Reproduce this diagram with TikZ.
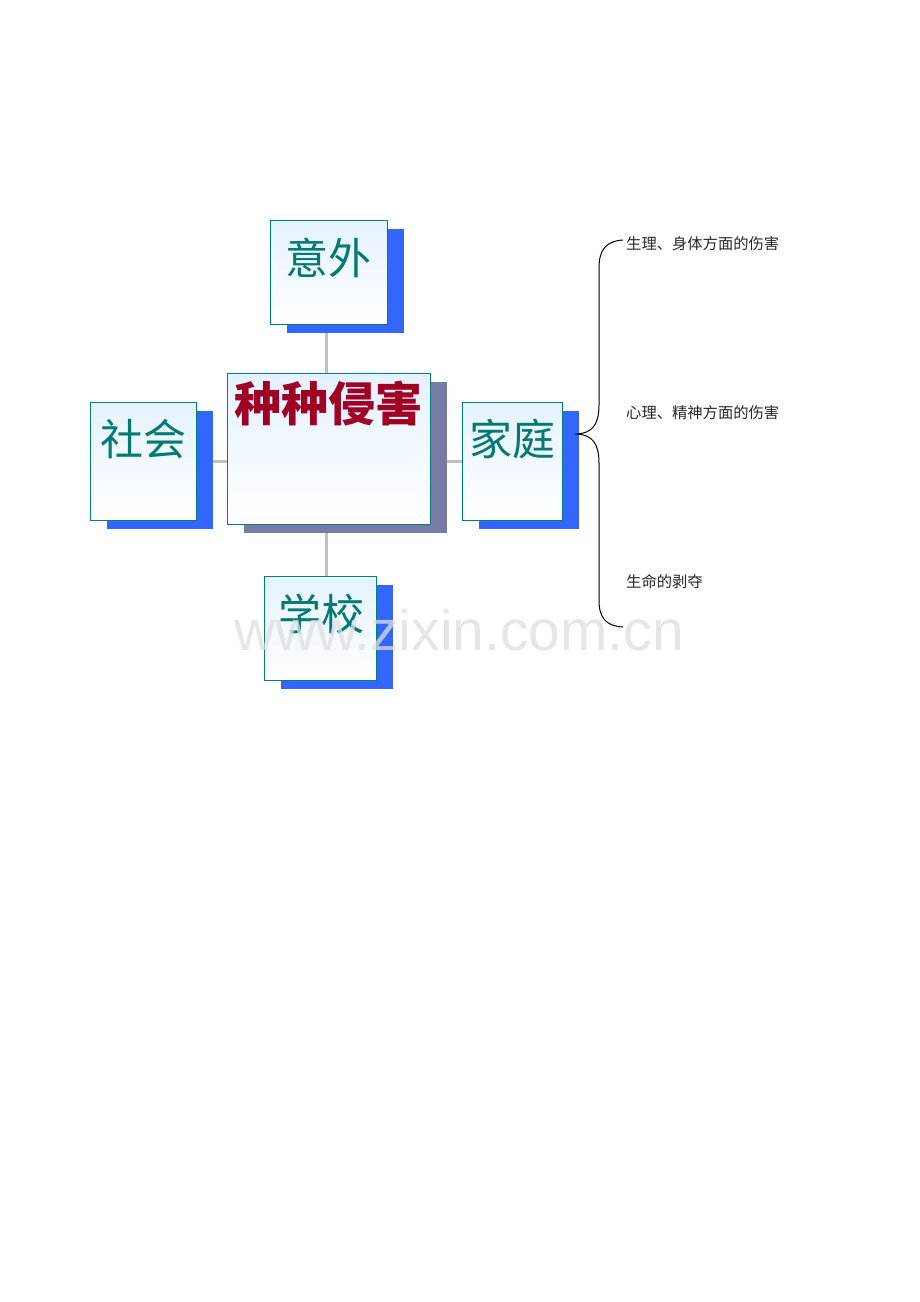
\documentclass[tikz,border=0pt]{standalone}
\usepackage{fontspec}
\newfontfamily\cjk{Noto Sans CJK SC}
\newfontfamily\cjkblack{Noto Sans CJK SC Black}
\newfontfamily\wmfont{Liberation Sans}
\usetikzlibrary{shadows,backgrounds}
\definecolor{tealtxt}{RGB}{0,122,115}
\definecolor{tealline}{RGB}{0,128,120}
\definecolor{shblue}{RGB}{51,102,255}
\definecolor{shgray}{RGB}{122,122,166}
\definecolor{boxtop}{RGB}{228,242,255}
\definecolor{titlered}{RGB}{160,0,36}
\definecolor{connc}{RGB}{192,192,192}
\definecolor{wmc}{RGB}{222,222,222}
\tikzset{
  box/.style={draw=tealline, line width=1.2pt, top color=boxtop, bottom color=white,
    inner sep=0pt, anchor=north west,
    general shadow={fill=shblue, shadow xshift=16pt, shadow yshift=-8pt}},
  cbox/.style={box, general shadow={fill=shgray, shadow xshift=16pt, shadow yshift=-8pt}},
  big/.style={font=\cjk\fontsize{43}{43}\selectfont, text=tealtxt, inner sep=0pt},
  title/.style={font=\cjkblack\fontsize{47}{47}\selectfont, text=titlered, inner sep=0pt},
  small/.style={font=\cjk\fontsize{15.3}{16}\selectfont, text=black!85, inner sep=0pt, anchor=west},
  conn/.style={draw=connc, line width=3pt},
  brace/.style={draw=black, line width=1pt}
}
\begin{document}
\begin{tikzpicture}[x=1pt,y=-1pt]
\useasboundingbox (0,0) rectangle (920,1302);
% boxes
\node[box, minimum width=117pt, minimum height=104pt] (yiwai) at (270,220) {};
\node[box, minimum width=106pt, minimum height=118pt] (shehui) at (90,402) {};
\node[cbox, minimum width=203pt, minimum height=151pt] (zhong) at (227,373) {};
\node[box, minimum width=100pt, minimum height=118pt] (jiating) at (462,402) {};
\node[box, minimum width=112pt, minimum height=104pt] (xuexiao) at (264,576) {};
% connectors
\coordinate (vx) at (326,324);
\begin{pgfonlayer}{background}
\draw[conn] (shehui) -- (jiating);
\draw[conn] (vx) -- (vx |- xuexiao.north);
\end{pgfonlayer}
% texts
\node[big] (t1) at (328,258) {意外};
\node[big] (t2) at (143,439) {社会};
\node[big] (t3) at (512,439) {家庭};
\node[big] (t4) at (321,614) {学校};
\node[title] (t0) at (328,403) {种种侵害};
% brace
\coordinate (btop) at (623,240);
\coordinate (bbot) at (623,627);
\coordinate (btip) at (577,434);
\draw[brace] (btop) .. controls (606,241) and (599,250) .. (599,268) -- (599,405)
  .. controls (599,425) and (592,433) .. (btip)
  .. controls (592,435) and (599,443) .. (599,463) -- (599,600)
  .. controls (599,618) and (606,626) .. (bbot);
\node[small] (r1) at (626,244) {生理、身体方面的伤害};
\node[small] (r2) at (626,413) {心理、精神方面的伤害};
\node[small] (r3) at (626,582) {生命的剥夺};
% watermark
\node[font=\wmfont\fontsize{57}{57}\selectfont, text=wmc, text opacity=0.75, inner sep=0pt, anchor=base west] (wm) at (234,650) {www.zixin.com.cn};
\end{tikzpicture}
\end{document}
